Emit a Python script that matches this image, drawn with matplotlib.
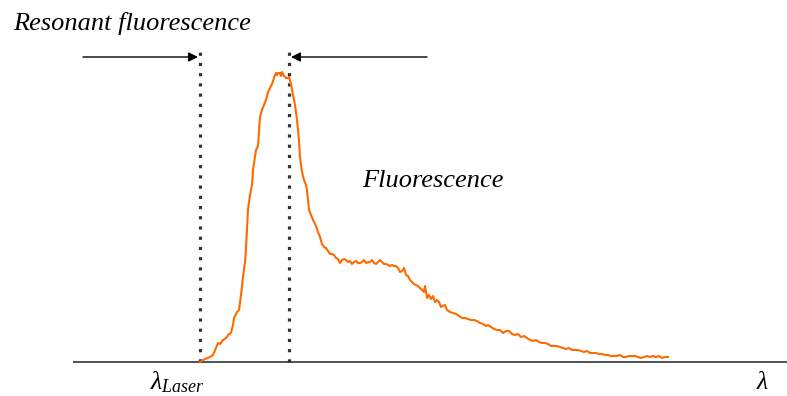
import matplotlib
matplotlib.use('Agg')
import matplotlib.pyplot as plt

plt.rcParams['mathtext.fontset'] = 'custom'
plt.rcParams['mathtext.rm'] = 'Liberation Serif'
plt.rcParams['mathtext.it'] = 'Liberation Serif:italic'

# emission spectrum, wavelength in arbitrary units, laser line at 200
wavelength = [200, 205, 210, 213, 216, 218, 220, 223, 226, 229, 231, 233, 234, 237, 239, 241, 243, 245,
              246, 247, 248, 250, 252, 253, 255, 256, 258, 259, 260, 262, 264, 266, 268, 270, 272, 274,
              275, 276, 277, 278, 280, 281, 282, 284, 286, 288, 289, 291, 293, 295, 297, 299, 300, 302,
              304, 306, 307, 308, 309, 311, 313, 316, 318, 320, 322, 324, 326, 328, 330, 332, 334, 336,
              338, 340, 342, 344, 346, 348, 350, 352, 354, 356, 358, 360, 362, 364, 366, 368, 370, 372,
              374, 376, 378, 380, 382, 384, 386, 388, 390, 392, 394, 396, 398, 400, 402, 404, 406, 408,
              410, 412, 414, 416, 418, 420, 422, 424, 425, 427, 429, 431, 433, 435, 437, 439, 441, 443,
              445, 447, 450, 453, 456, 459, 462, 465, 468, 471, 474, 477, 480, 483, 486, 488, 491, 494,
              497, 500, 503, 506, 509, 512, 515, 518, 521, 524, 527, 530, 533, 536, 539, 542, 545, 548,
              551, 554, 557, 560, 563, 566, 569, 572, 575, 578, 581, 584, 587, 590, 593, 596, 599, 602,
              605, 608, 611, 614, 617, 620, 623, 626, 629, 632, 635, 638, 641, 644, 647, 650, 653, 656,
              659, 662, 665, 668]
intensity = [0, 3, 5, 7, 14, 19, 18, 22, 24, 28, 29, 37, 44, 50, 52, 67, 85, 100,
             114, 134, 152, 167, 177, 192, 205, 212, 216, 230, 245, 252, 257, 262, 270, 274, 278, 284,
             287, 289, 287, 289, 289, 286, 290, 286, 284, 284, 285, 278, 267, 257, 242, 222, 205, 190,
             182, 177, 172, 162, 152, 147, 142, 136, 130, 125, 118, 115, 114, 111, 108, 108, 107, 104,
             103, 99, 102, 103, 102, 100, 101, 98, 100, 101, 99, 99, 100, 102, 99, 100, 100, 102,
             99, 98, 100, 102, 100, 98, 98, 97, 96, 97, 96, 96, 94, 90, 91, 94, 87, 86,
             82, 80, 78, 77, 76, 74, 72, 70, 76, 64, 67, 63, 66, 60, 62, 60, 55, 56,
             57, 52, 50, 49, 48, 46, 44, 44, 43, 42, 42, 41, 39, 38, 36, 37, 35, 33,
             32, 32, 29, 31, 31, 28, 27, 28, 25, 26, 24, 22, 21, 22, 20, 19, 19, 18,
             16, 16, 16, 15, 14, 13, 14, 12, 12, 12, 11, 10, 11, 9, 9, 9, 8, 8,
             7, 7, 6, 6, 6, 7, 5, 5, 6, 6, 6, 5, 4, 5, 6, 5, 6, 5,
             6, 4, 5, 5]

laser_wl = 200
resonant_edge = 289
dotted_top = 310
arrow_level = 305

fig = plt.figure(figsize=(7.87, 3.96), dpi=100)
ax = fig.add_axes([0, 0, 1, 1])
ax.set_xlim(0, 787)
ax.set_ylim(-34, 362)
ax.axis('off')

# wavelength axis
ax.plot([73, 787], [0, 0], color='#333333', lw=1.2, solid_capstyle='butt', zorder=1)

ax.plot(wavelength, intensity, color='#ff6a00', lw=1.5, zorder=3)

for xv in (laser_wl, resonant_edge):
    ax.plot([xv, xv], [0, dotted_top], color='#333333', lw=2.3,
            linestyle=(0, (1, 2.2)), dash_capstyle='butt', zorder=2)

arrow = dict(arrowstyle='-|>', color='black', lw=1.0, mutation_scale=14, shrinkA=0, shrinkB=0)
ax.annotate('', xy=(laser_wl - 2, arrow_level), xytext=(83, arrow_level), arrowprops=arrow)
ax.annotate('', xy=(resonant_edge + 2, arrow_level), xytext=(427, arrow_level), arrowprops=arrow)

serif = 'Liberation Serif'
ax.text(13, 332, 'Resonant fluorescence', family=serif, style='italic', fontsize=19,
        ha='left', va='baseline')
ax.text(362, 175, 'Fluorescence', family=serif, style='italic', fontsize=19,
        ha='left', va='baseline')
ax.text(150, -27, r'$\lambda_{Laser}$', fontsize=18.5, ha='left', va='baseline')
ax.text(756, -27, r'$\lambda$', fontsize=18.5, ha='left', va='baseline')

fig.savefig('out.png', dpi=100)
